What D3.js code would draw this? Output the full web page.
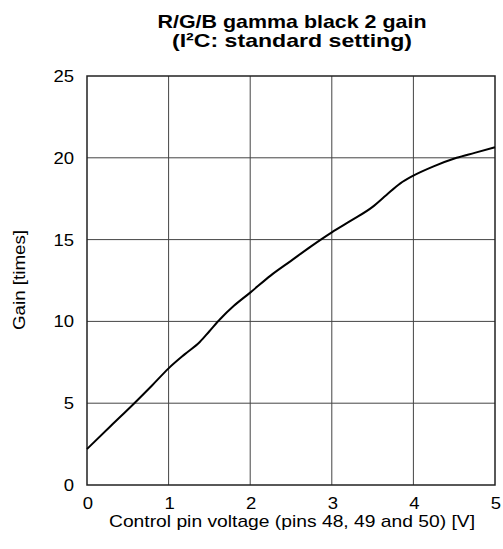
<!DOCTYPE html>
<html>
<head>
<meta charset="utf-8">
<script src="https://cdnjs.cloudflare.com/ajax/libs/d3/7.8.5/d3.min.js"></script>
<style>
  body { margin: 0; background: #fff; }
  text { font-family: "Liberation Sans", Arial, sans-serif; fill: #000; }
</style>
</head>
<body>
<div id="canvas"></div>
<script>
"use strict"

// data
let voltage = [0, 0.3, 0.58, 0.8, 1.0, 1.2, 1.385, 1.5, 1.63, 1.8, 2.0, 2.25, 2.5, 2.75, 3.0, 3.25, 3.5, 3.67, 3.84, 4.0, 4.24, 4.53, 4.75, 5.0];
let gain = [2.2, 3.65, 5.0, 6.1, 7.13, 8.0, 8.76, 9.4, 10.13, 10.95, 11.76, 12.8, 13.7, 14.6, 15.44, 16.2, 17.0, 17.73, 18.44, 18.91, 19.46, 20.0, 20.3, 20.64];
let xTicks = [0, 1, 2, 3, 4, 5];
let yTicks = [0, 5, 10, 15, 20, 25];

let titleLines = ["R/G/B gamma black 2 gain", "(I²C: standard setting)"];
let xTitle = "Control pin voltage (pins 48, 49 and 50) [V]";
let yTitle = "Gain [times]";

let drawing = d3.select("#canvas")
    .append("svg")
    .attr("width", 503)
    .attr("height", 549);

/* plot box corners */
let plotLeft = 87, plotRight = 495, plotTop = 76, plotBottom = 485;

let x = d3.scaleLinear().domain([0, 5]).range([plotLeft, plotRight]);
let y = d3.scaleLinear().domain([0, 25]).range([plotBottom, plotTop]);

// grid lines
drawing.append("g")
    .selectAll("line")
    .data(xTicks.slice(1, -1))
    .join("line")
    .attr("x1", d => x(d)).attr("x2", d => x(d))
    .attr("y1", plotTop).attr("y2", plotBottom)
    .attr("stroke", "#444")
    .attr("stroke-width", 1);

drawing.append("g")
    .selectAll("line")
    .data(yTicks.slice(1, -1))
    .join("line")
    .attr("y1", d => y(d)).attr("y2", d => y(d))
    .attr("x1", plotLeft).attr("x2", plotRight)
    .attr("stroke", "#444")
    .attr("stroke-width", 1);

// frame
drawing.append("rect")
    .attr("x", plotLeft)
    .attr("y", plotTop)
    .attr("width", plotRight - plotLeft)
    .attr("height", plotBottom - plotTop)
    .attr("fill", "none")
    .attr("stroke", "#222")
    .attr("stroke-width", 1.5);

// tick labels (the reference font is a bit wider than Liberation, so stretch a little)
drawing.append("g")
    .selectAll("text")
    .data(xTicks)
    .join("text")
    .attr("x", d => x(d) + 1)
    .attr("y", 509)
    .attr("text-anchor", "middle")
    .attr("font-size", 17)
    .attr("textLength", d => String(d).length * 10.3)
    .attr("lengthAdjust", "spacingAndGlyphs")
    .text(d => d);

drawing.append("g")
    .selectAll("text")
    .data(yTicks)
    .join("text")
    .attr("x", 74)
    .attr("y", d => y(d) + 6)
    .attr("text-anchor", "end")
    .attr("font-size", 17)
    .attr("textLength", d => String(d).length * 10.3)
    .attr("lengthAdjust", "spacingAndGlyphs")
    .text(d => d);

// the curve
let pts = voltage.map((v, i) => [v, gain[i]]);
let line = d3.line()
    .x(d => x(d[0]))
    .y(d => y(d[1]))
    .curve(d3.curveMonotoneX);

drawing.append("path")
    .attr("d", line(pts))
    .attr("fill", "none")
    .attr("stroke", "#000")
    .attr("stroke-width", 2);

// titles
let titleWidths = [269, 240];
drawing.append("g")
    .selectAll("text")
    .data(titleLines)
    .join("text")
    .attr("x", 292)
    .attr("y", (d, i) => 28 + i * 19)
    .attr("text-anchor", "middle")
    .attr("font-size", 19)
    .attr("font-weight", "bold")
    .attr("textLength", (d, i) => titleWidths[i])
    .attr("lengthAdjust", "spacingAndGlyphs")
    .text(d => d);

drawing.append("text")
    .attr("x", 292)
    .attr("y", 527)
    .attr("text-anchor", "middle")
    .attr("font-size", 17)
    .attr("textLength", 366)
    .attr("lengthAdjust", "spacingAndGlyphs")
    .text(xTitle);

drawing.append("text")
    .attr("transform", "translate(25,280) rotate(-90)")
    .attr("text-anchor", "middle")
    .attr("font-size", 17)
    .attr("textLength", 100)
    .attr("lengthAdjust", "spacingAndGlyphs")
    .text(yTitle);
</script>
</body>
</html>
